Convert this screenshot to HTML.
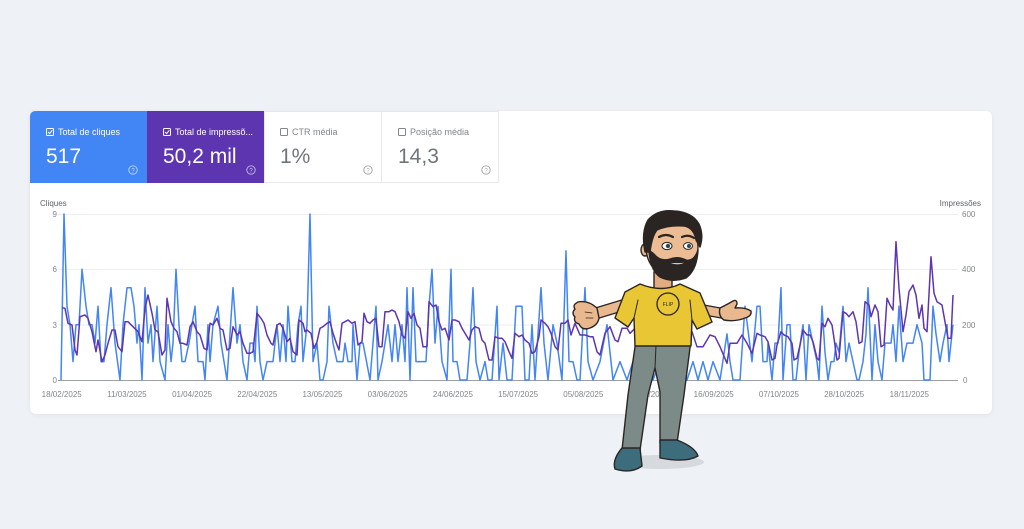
<!DOCTYPE html>
<html><head><meta charset="utf-8"><style>
html,body{margin:0;padding:0}
body{width:1024px;height:529px;background:#eef1f6;overflow:hidden;position:relative;font-family:"Liberation Sans",sans-serif}
.card{position:absolute;left:30px;top:111px;width:962px;height:303px;background:#fff;border-radius:6px;box-shadow:0 1px 4px rgba(60,64,67,.08)}
svg{position:absolute;left:0;top:0}
</style></head><body>
<div class="card"></div>
<svg width="1024" height="529" viewBox="0 0 1024 529" xmlns="http://www.w3.org/2000/svg" font-family="Liberation Sans, sans-serif">
  <!-- tabs -->
  <path d="M36,111 H147 V183 H30 V117 Q30,111 36,111 Z" fill="#4285f4"/>
  <rect x="147" y="111" width="117" height="72" fill="#5e35b1"/>
  <rect x="264.5" y="111.5" width="117" height="71" fill="#fff" stroke="#e6e8eb"/>
  <rect x="381.5" y="111.5" width="117" height="71" fill="#fff" stroke="#e6e8eb"/>

  <!-- tab 1 -->
  <rect x="46.5" y="128.5" width="7" height="7" rx="1" fill="none" stroke="#fff" stroke-width="1"/>
  <path d="M48,132 L49.6,133.6 L52.3,130.3" fill="none" stroke="#fff" stroke-width="1"/>
  <text x="58" y="135" font-size="9" fill="#fff">Total de cliques</text>
  <text x="46" y="163" font-size="21" fill="#fff">517</text>
  <circle cx="133" cy="170" r="4.2" fill="none" stroke="rgba(255,255,255,.65)" stroke-width="0.9"/>
  <text x="133" y="172.3" font-size="6" fill="rgba(255,255,255,.75)" text-anchor="middle">?</text>

  <!-- tab 2 -->
  <rect x="163.5" y="128.5" width="7" height="7" rx="1" fill="none" stroke="#fff" stroke-width="1"/>
  <path d="M165,132 L166.6,133.6 L169.3,130.3" fill="none" stroke="#fff" stroke-width="1"/>
  <text x="175" y="135" font-size="9" fill="#fff">Total de impressõ...</text>
  <text x="163" y="163" font-size="21" fill="#fff">50,2 mil</text>
  <circle cx="251" cy="170" r="4.2" fill="none" stroke="rgba(255,255,255,.65)" stroke-width="0.9"/>
  <text x="251" y="172.3" font-size="6" fill="rgba(255,255,255,.75)" text-anchor="middle">?</text>

  <!-- tab 3 -->
  <rect x="280.5" y="128.5" width="7" height="7" rx="1" fill="none" stroke="#80868b" stroke-width="1"/>
  <text x="292" y="135" font-size="9" fill="#80868b">CTR média</text>
  <text x="280" y="163" font-size="21" fill="#70757a">1%</text>
  <circle cx="368" cy="170" r="4.2" fill="none" stroke="#a0a4a8" stroke-width="0.9"/>
  <text x="368" y="172.3" font-size="6" fill="#a0a4a8" text-anchor="middle">?</text>

  <!-- tab 4 -->
  <rect x="398.5" y="128.5" width="7" height="7" rx="1" fill="none" stroke="#80868b" stroke-width="1"/>
  <text x="410" y="135" font-size="9" fill="#80868b">Posição média</text>
  <text x="398" y="163" font-size="21" fill="#70757a">14,3</text>
  <circle cx="486" cy="170" r="4.2" fill="none" stroke="#a0a4a8" stroke-width="0.9"/>
  <text x="486" y="172.3" font-size="6" fill="#a0a4a8" text-anchor="middle">?</text>

  <!-- axes labels -->
  <text x="40" y="206" font-size="8" fill="#5f6368">Cliques</text>
  <text x="981" y="206" font-size="8" fill="#5f6368" text-anchor="end">Impressões</text>

  <!-- grid -->
  <g stroke="#eceef0" stroke-width="1">
    <line x1="58" y1="214.5" x2="958" y2="214.5"/>
    <line x1="58" y1="269.5" x2="958" y2="269.5"/>
    <line x1="58" y1="325" x2="958" y2="325"/>
  </g>
  <line x1="58" y1="380.5" x2="958" y2="380.5" stroke="#9aa0a6" stroke-width="1"/>

  <g font-size="8" fill="#80868b">
    <text x="57" y="217" text-anchor="end">9</text>
    <text x="57" y="272" text-anchor="end">6</text>
    <text x="57" y="328" text-anchor="end">3</text>
    <text x="57" y="383" text-anchor="end">0</text>
    <text x="962" y="217">600</text>
    <text x="962" y="272">400</text>
    <text x="962" y="328">200</text>
    <text x="963" y="383">0</text>
  </g>
  <g font-size="8" fill="#80868b" text-anchor="middle">
    <text x="61.7" y="397">18/02/2025</text>
    <text x="126.9" y="397">11/03/2025</text>
    <text x="192.1" y="397">01/04/2025</text>
    <text x="257.3" y="397">22/04/2025</text>
    <text x="322.5" y="397">13/05/2025</text>
    <text x="387.7" y="397">03/06/2025</text>
    <text x="452.9" y="397">24/06/2025</text>
    <text x="518.1" y="397">15/07/2025</text>
    <text x="583.3" y="397">05/08/2025</text>
    <text x="648.5" y="397">26/08/2025</text>
    <text x="713.7" y="397">16/09/2025</text>
    <text x="778.9" y="397">07/10/2025</text>
    <text x="844.1" y="397">28/10/2025</text>
    <text x="909.3" y="397">18/11/2025</text>
  </g>

  <!-- clicks series -->
  <polyline fill="none" stroke="#4285f4" stroke-width="1.5" stroke-linejoin="round" points="61,380 64,214 67,306.2 70,324.7 73,361.6 76,324.7 79,324.7 82,269.3 86,306.2 89,324.7 92,324.7 95,343.1 98,306.2 101,361.6 104,361.6 107,324.7 111,287.8 115,343.1 120,380 123,324.7 127,287.8 131,287.8 134,306.2 137,343.1 139,324.7 142,380 145,287.8 148,343.1 151,324.7 153,361.6 157,306.2 160,361.6 165,380 168,324.7 171,361.6 173,343.1 176,269.3 179,324.7 182,361.6 185,361.6 189,343.1 192,324.7 195,306.2 198,361.6 200,361.6 203,361.6 205,380 208,324.7 210,361.6 213,324.7 218,306.2 221,343.1 227,380 233,287.8 237,343.1 240,324.7 243,361.6 247,380 250,343.1 253,343.1 255,361.6 257,306.2 260,361.6 263,380 267,361.6 273,361.6 277,324.7 280,361.6 283,324.7 286,361.6 288,306.2 292,361.6 295,361.6 298,324.7 301,306.2 303,361.6 307,324.7 310,214 313,361.6 317,343.1 320,380 323,380 327,361.6 329,306.2 333,343.1 337,361.6 340,361.6 343,361.6 345,343.1 348,361.6 352,361.6 353,324.7 357,380 360,343.1 363,343.1 370,380 376,306.2 378,380 382,361.6 388,324.7 392,361.6 395,324.7 398,361.6 402,324.7 405,361.6 407,287.8 410,380 413,287.8 416,361.6 420,361.6 426,361.6 429,306.2 432,269.3 435,343.1 438,306.2 442,361.6 447,380 451,269.3 453,361.6 457,361.6 460,380 467,380 470,343.1 473,287.8 476,361.6 480,380 485,361.6 488,380 492,380 497,306.2 499,380 503,343.1 507,380 512,380 516,306.2 522,306.2 525,380 529,380 532,324.7 535,380 541,287.8 544,343.1 548,380 553,324.7 557,343.1 562,380 566,250.9 569,361.6 573,361.6 577,380 580,380 585,287.8 588,361.6 593,380 600,361.6 607,324.7 613,380 620,361.6 627,380 633,361.6 640,380 647,343.1 653,380 660,361.6 667,380 673,343.1 680,361.6 687,380 693,361.6 698,380 703,361.6 708,380 713,361.6 720,380 727,333.9 730,361.6 733,380 740,380 745,306.2 752,361.6 757,306.2 760,306.2 763,361.6 767,361.6 768,343.1 772,380 775,343.1 778,343.1 781,287.8 783,380 787,324.7 790,324.7 793,380 796,380 799,352.3 803,324.7 806,380 809,324.7 813,343.1 817,361.6 819,380 822,306.2 825,352.3 828,380 831,361.6 834,361.6 836,343.1 839,352.3 843,306.2 846,361.6 849,343.1 853,361.6 857,380 859,380 863,361.6 866,333.9 868,287.8 872,380 875,324.7 878,361.6 882,380 885,343.1 888,343.1 891,343.1 893,324.7 896,361.6 899,306.2 903,361.6 907,343.1 913,343.1 917,324.7 922,343.1 924,380 930,380 933,306.2 936,333.9 940,361.6 943,343.1 947,324.7 949,361.6 953,324.7"/>

  <!-- impressions series -->
  <polyline fill="none" stroke="#5e35b1" stroke-width="1.5" stroke-linejoin="round" points="62,307.7 65,308.3 68,323.3 72,325 75,350 77,355 80,316.7 85,315 88,318.3 92,331.7 96,351.7 98,340 102,361.7 105,355 108,343.3 112,330 115,330 118,346.7 122,351.7 125,321.7 128,321.7 133,326.7 138,331.7 142,341.7 145,308.3 148,295 152,313.3 155,330 158,331.7 162,355 165,350 167,298.3 171,321.7 174,328.3 177,331.7 180,343.3 183,343.3 187,345 190,326.7 193,321.7 197,331.7 200,335 204,348.3 207,350 210,323.3 213,325 217,318.3 220,328.3 223,330 227,350 230,348.3 233,326.7 237,335 240,331.7 243,343.3 247,353.3 250,353.3 253,351.7 257,313.3 261,318.3 264,323.3 267,335 271,343.3 273,345 277,325 280,323.3 283,328.3 287,341.7 290,338.3 293,351.7 297,355 299,320 303,323.3 305,331.7 307,330 311,333.3 314,348.3 317,341.7 320,328.3 323,326.7 327,323.3 330,321.7 333,333.3 337,345 339,350 342,323.3 345,321.7 348,320 352,323.3 355,321.7 358,345 362,341.7 364,313.3 367,321.7 370,323.3 373,320 376,318.3 379,346.7 382,346.7 385,311.7 389,311.7 392,310 395,311.7 399,321.7 402,335 405,338.3 408,311.7 411,318.3 414,313.3 417,325 420,328.3 423,346.7 427,346.7 429,301.7 433,306.7 436,305 439,321.7 442,330 445,328.3 449,340 452,320 455,320 459,321.7 462,328.3 465,333.3 469,340 472,330 475,326.7 479,328.3 482,340 485,343.3 489,360 492,360 495,336.7 499,338.3 502,338.3 505,341.7 509,351.7 512,358.3 515,333.3 519,336.7 522,335 525,340 529,343.3 532,353.3 535,351.7 539,336.7 541,320 545,323.3 548,326.7 551,333.3 555,346.7 558,350 561,323.3 565,323.3 568,320 571,335 575,323.3 580,335 585,335 590,336.7 593,336.7 597,351.7 600,355 605,333.3 610,326.7 615,340 618,341.7 622,328.3 627,328.3 630,333.3 635,328.3 640,343.3 650,333 660,340 670,333 678,330 682,351.7 687,351.7 692,331.7 697,346.7 703,346.7 710,335 715,336.7 720,346.7 727,363.3 730,343.3 737,343.3 742,335 747,343.3 752,353.3 757,333.3 760,335 765,336.7 768,341.7 772,360 775,358.3 777,345 781,331.7 784,335 788,336.7 792,343.3 794,360 797,358.3 800,345 803,330 807,335 810,335 813,341.7 817,358.3 819,360 822,323.3 825,326.7 828,318.3 832,325 834,338.3 837,360 839,358.3 843,311.7 846,313.3 849,316.7 853,311.7 856,321.7 859,343.3 862,341.7 865,301.7 869,305 871,316.7 875,305 878,311.7 881,346.7 884,345 887,298.3 890,305 893,310 896,241.7 899,288.3 903,331.7 906,315 909,291.7 913,285 916,295 919,318.3 922,305 924,328.3 927,331.7 931,256.7 934,293.3 937,301.7 942,305 945,321.7 948,338.3 951,338.3 953,295"/>

  <!-- character -->
  <g stroke="#2a2523" stroke-width="1.4" stroke-linejoin="round" stroke-linecap="round">
    <ellipse cx="660" cy="462" rx="44" ry="7" fill="#d6dadf" stroke="none"/>
    <!-- pants -->
    <path d="M636,340 L691,340 L684,395 L677,443 L660,443 L660,392 L655,368 L648,395 L640,450 L622,450 L628,395 Z" fill="#7c8b87"/>
    <path d="M655,368 L656,345" fill="none" stroke-width="1"/>
    <!-- shoes -->
    <path d="M622,448 L640,448 L642,466 Q631,474 615,469 Q612,460 622,448 Z" fill="#3d6c7c"/>
    <path d="M660,440 L677,440 Q695,447 698,456 Q686,463 660,458 Z" fill="#3d6c7c"/>
    <!-- left arm -->
    <path d="M627,304 L594,314" fill="none" stroke="#2a2523" stroke-width="12"/>
    <path d="M627,304 L594,314" fill="none" stroke="#e9b88f" stroke-width="9.5"/>
    <!-- left hand -->
    <path d="M597,308 Q588,300 578,302 Q572,305 575,309 Q571,313 575,317 Q573,322 579,324 Q582,331 590,328 Q598,325 599,318 Z" fill="#e9b88f"/>
    <path d="M585,312 L592,313 M586,318 L593,318" fill="none" stroke-width="0.8"/>
    <!-- right arm -->
    <path d="M699,309 L726,314" fill="none" stroke="#2a2523" stroke-width="11"/>
    <path d="M699,309 L726,314" fill="none" stroke="#e9b88f" stroke-width="8.5"/>
    <!-- right hand -->
    <path d="M720,308 Q728,304 733,301 Q737,299 737,304 L735,308 Q745,307 751,311 Q752,316 745,318 Q735,322 724,320 Q718,316 720,308 Z" fill="#e9b88f"/>
    <!-- neck -->
    <rect x="654" y="272" width="18" height="18" fill="#e2ab80"/>
    <!-- shirt -->
    <path d="M640,284 Q662,293 680,284 L700,293 L712,322 L697,329 L692,320 L691,346 L635,346 L634,318 L628,327 L615,318 L625,292 Z" fill="#e9c633"/>
    <path d="M634,318 L638,300 M692,320 L690,300" fill="none" stroke-width="1"/>
    <circle cx="668" cy="304" r="11" fill="none" stroke-width="1.3"/>
    <text x="668" y="306" font-size="5" fill="#2a2523" stroke="none" text-anchor="middle">FLIP</text>
    <!-- ears -->
    <ellipse cx="645" cy="250" rx="4" ry="6" fill="#e9b88f"/>
    <!-- face -->
    <ellipse cx="672" cy="247" rx="26" ry="30" fill="#ecbd94"/>
    <!-- hair -->
    <path d="M645,252 Q641,232 648,220 Q658,209 674,211 Q692,212 699,224 Q704,235 700,247 L696,240 Q694,228 684,226 Q668,225 657,230 Q652,236 650,252 Z" fill="#2a2523"/>
    <!-- beard -->
    <path d="M649,250 Q650,270 660,277 Q672,283 686,278 Q697,270 698,250 Q694,262 686,260 Q678,256 670,259 Q660,262 654,254 Z" fill="#2a2523"/>
    <path d="M668,262 Q678,268 688,261 Q680,264 668,262 Z" fill="#fff" stroke-width="1"/>
    <!-- eyes -->
    <path d="M659,237 Q666,233 673,237" fill="none" stroke-width="2.2"/>
    <path d="M682,237 Q688,234 694,238" fill="none" stroke-width="2.2"/>
    <ellipse cx="667" cy="246" rx="5" ry="3.6" fill="#fff" stroke-width="1"/>
    <ellipse cx="688" cy="246" rx="4.5" ry="3.4" fill="#fff" stroke-width="1"/>
    <circle cx="668" cy="246" r="2.2" fill="#2a4a52" stroke="none"/>
    <circle cx="689" cy="246" r="2" fill="#2a4a52" stroke="none"/>
  </g>
</svg>
</body></html>
